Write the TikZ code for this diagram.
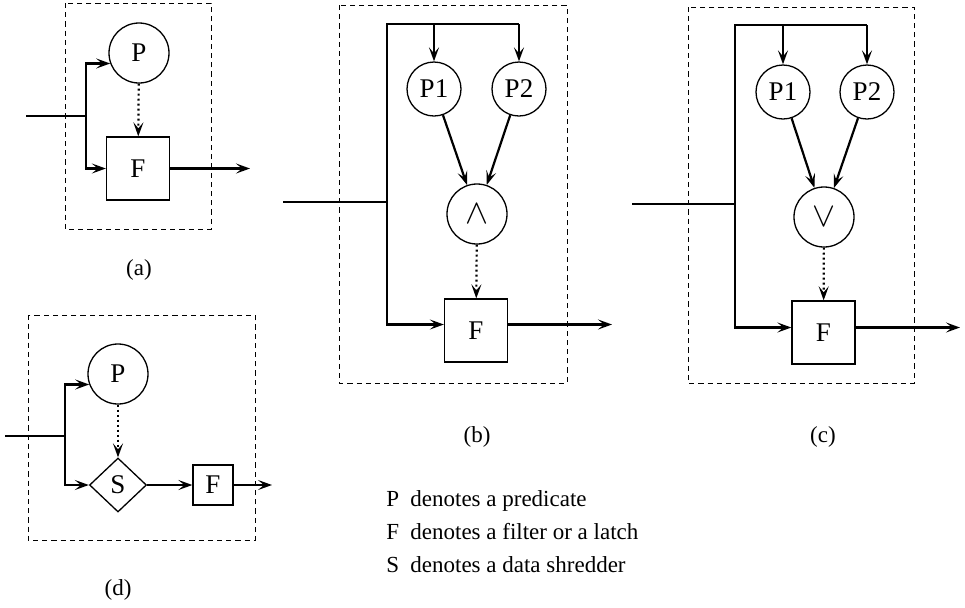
\documentclass[tikz,border=0pt]{standalone}
\usepackage{fontspec}
\setmainfont{Liberation Serif}
\usetikzlibrary{arrows.meta, shapes.geometric}

\begin{document}
\begin{tikzpicture}[
    x=0.5pt, y=-0.5pt,
    font=\fontsize{11.5}{13.5}\selectfont,
    line/.style={line width=1.1pt},
    arr/.style={line, -{Stealth[length=7pt, width=5pt, inset=3pt]}},
    dotarr/.style={arr, dash pattern=on 1pt off 1.5pt},
    frame/.style={line width=0.45pt, dash pattern=on 2.6pt off 2pt},
    box/.style={draw, line width=0.65pt, inner sep=0pt,
                font=\fontsize{13.5}{15}\selectfont},
    pred/.style={box, circle, minimum size=#1},
    pred/.default=30pt,
    filt/.style={box, rectangle, minimum size=#1},
    filt/.default=31.5pt,
    shred/.style={box, diamond, minimum width=28.5pt, minimum height=27pt}
]
\useasboundingbox (0,0) rectangle (965,607);

% Panel (a)
\draw[frame] (65,3) rectangle (211,229);
\node[pred] (pa) at (139,53) {P};
\node[filt] (fa) at (138,168.5) {F};
\coordinate (ina) at (26,116);
\coordinate (ja) at (86,116);
\coordinate (outa) at (250,168.5);
\draw[line] (ina) -- (ja);
\draw[arr] (ja) |- (pa.200);
\draw[arr] (ja) |- (fa);
\draw[dotarr] (pa) -- (fa);
\draw[arr] (fa) -- (outa);
\node (capa) at (139,270) {(a)};

% Panel (b)
\draw[frame] (339,5) rectangle (567,383);
\node[pred=27pt] (p1b) at (434,89) {P1};
\node[pred=27pt] (p2b) at (519,89) {P2};
\node[pred] (andb) at (477,214) {\fontsize{16}{16}\selectfont$\wedge$};
\node[filt] (fb) at (476,330.5) {F};
\coordinate (inb) at (283,202);
\coordinate (jb) at (387,202);
\coordinate (tb) at (519,24);
\coordinate (outb) at (612,324.5);
\draw[line] (inb) -- (jb) |- (tb);
\draw[arr] (p1b |- tb) -- (p1b);
\draw[arr] (tb) -- (p2b);
\draw[arr] (p1b) -- (andb);
\draw[arr] (p2b) -- (andb);
\draw[dotarr] (andb) -- (fb);
\draw[arr] (jb) |- ([yshift=3pt]fb.west);
\draw[arr] ([yshift=3pt]fb.east) -- (outb);
\node (capb) at (477,437) {(b)};

% Panel (c)
\draw[frame] (688,7) rectangle (914,383);
\node[pred=27pt] (p1c) at (783,92) {P1};
\node[pred=27pt] (p2c) at (867,92) {P2};
\node[pred] (orc) at (824,217) {\fontsize{16}{16}\selectfont$\vee$};
\node[filt] (fc) at (823.5,332.5) {F};
\coordinate (inc) at (632,204);
\coordinate (jc) at (735,204);
\coordinate (tc) at (867,25);
\coordinate (outc) at (960,327.5);
\draw[line] (inc) -- (jc) |- (tc);
\draw[arr] (p1c |- tc) -- (p1c);
\draw[arr] (tc) -- (p2c);
\draw[arr] (p1c) -- (orc);
\draw[arr] (p2c) -- (orc);
\draw[dotarr] (orc) -- (fc);
\draw[arr] (jc) |- ([yshift=2.5pt]fc.west);
\draw[arr] ([yshift=2.5pt]fc.east) -- (outc);
\node (capc) at (823,437) {(c)};

% Panel (d)
\draw[frame] (28,315) rectangle (255,540);
\node[pred] (pd) at (118,374) {P};
\node[shred] (sd) at (118,485) {S};
\node[filt=20pt] (fd) at (213,485) {F};
\coordinate (ind) at (5,436);
\coordinate (jd) at (65,436);
\coordinate (outd) at (272,485);
\draw[line] (ind) -- (jd);
\draw[arr] (jd) |- (pd.200);
\draw[arr] (jd) |- (sd);
\draw[dotarr] (pd) -- (sd);
\draw[arr] (sd) -- (fd);
\draw[arr] (fd) -- (outd);
\node (capd) at (118,590) {(d)};

% Legend
\foreach \k/\txt [count=\n] in {P/{denotes a predicate},
                                F/{denotes a filter or a latch},
                                S/{denotes a data shredder}} {
   \node[anchor=base west, inner sep=0pt] (key\k) at (386, 473+33*\n) {\k};
   \node[anchor=base west, inner sep=0pt] (desc\k) at (410, 473+33*\n) {\txt};
}
\end{tikzpicture}
\end{document}
